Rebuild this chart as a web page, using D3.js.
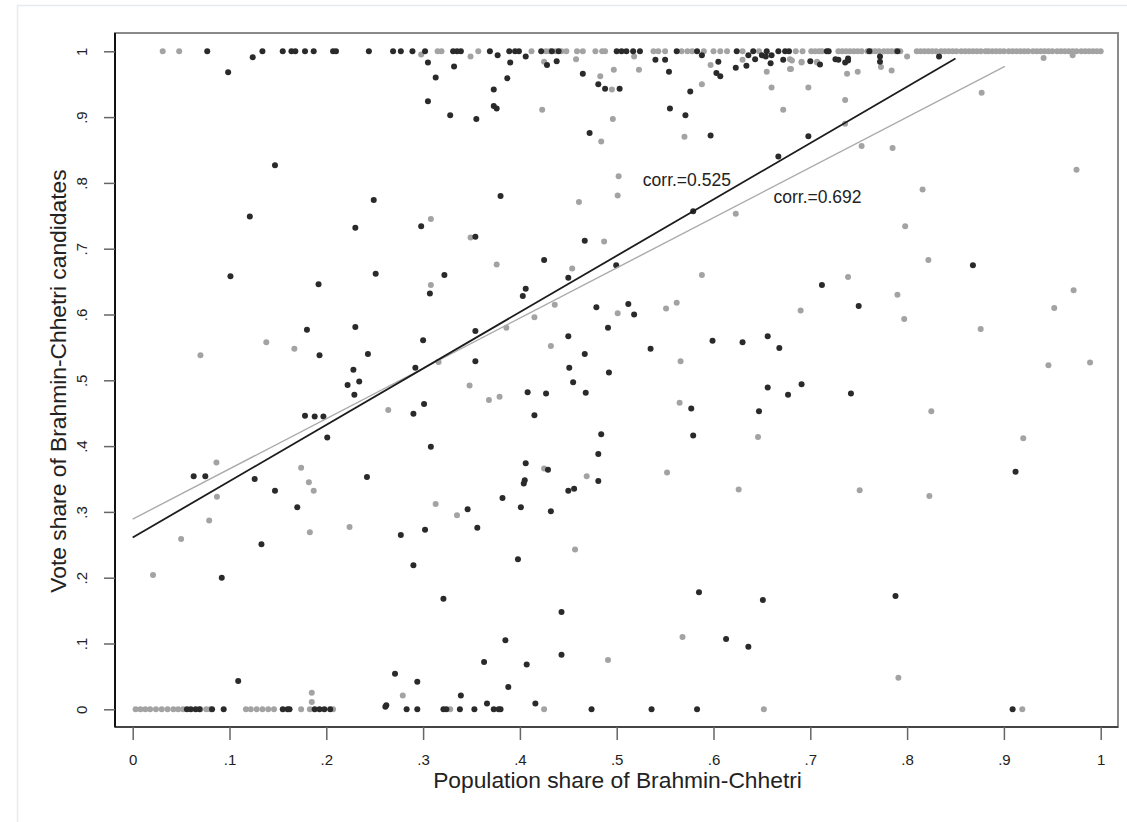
<!DOCTYPE html>
<html>
<head>
<meta charset="utf-8">
<script src="https://cdn.jsdelivr.net/npm/d3@7"></script>
<style>
  body { margin: 0; background: #fff; }
  svg { display: block; font-family: "Liberation Sans", Arial, Helvetica, sans-serif; }
</style>
</head>
<body>
<svg id="chart" width="1127" height="822"></svg>
<script>
// tick values
var xTicks = [0, 0.1, 0.2, 0.3, 0.4, 0.5, 0.6, 0.7, 0.8, 0.9, 1];
var yTicks = [0, 0.1, 0.2, 0.3, 0.4, 0.5, 0.6, 0.7, 0.8, 0.9, 1];

// dark series: points sitting on vote share = 1 and = 0
var darkTopX = [0.077, 0.134, 0.155, 0.164, 0.168, 0.178, 0.187, 0.207, 0.21, 0.244, 0.269, 0.277, 0.289, 0.302,
  0.331, 0.335, 0.339, 0.369, 0.389, 0.395, 0.399, 0.422, 0.433, 0.44, 0.5, 0.505, 0.51, 0.517, 0.524, 0.562,
  0.583, 0.624, 0.641, 0.655, 0.667, 0.674, 0.678, 0.717, 0.719, 0.761, 0.79];
var darkZeroX = [0.056, 0.06, 0.065, 0.069, 0.082, 0.094, 0.155, 0.16, 0.162, 0.188, 0.193, 0.198, 0.204, 0.283,
  0.294, 0.321, 0.324, 0.338, 0.353, 0.373, 0.378, 0.38, 0.474, 0.536, 0.583, 0.909];
// dark series: the rest [population share, vote share]
var darkPts = [
  [0.377,0.994],[0.406,0.992],[0.588,0.994],[0.636,0.994],[0.65,0.994],[0.66,0.994],[0.124,0.991],[0.0986,0.968],
  [0.305,0.983],[0.313,0.96],[0.305,0.924],[0.332,0.977],[0.39,0.983],[0.387,0.959],[0.373,0.942],[0.373,0.917],
  [0.376,0.913],[0.328,0.903],[0.355,0.897],[0.428,0.979],[0.438,0.985],[0.465,0.966],[0.472,0.876],[0.481,0.95],
  [0.488,0.943],[0.503,0.943],[0.54,0.987],[0.55,0.987],[0.554,0.969],[0.555,0.913],[0.571,0.903],[0.597,0.872],
  [0.576,0.939],[0.603,0.967],[0.607,0.962],[0.605,0.984],[0.623,0.975],[0.634,0.978],[0.643,0.988],[0.654,0.992],
  [0.659,0.982],[0.672,0.987],[0.7,0.985],[0.71,0.98],[0.726,0.988],[0.729,0.987],[0.736,0.983],[0.739,0.989],
  [0.772,0.992],[0.772,0.984],[0.833,0.992],[0.739,0.986],
  [0.147,0.827],[0.121,0.749],[0.249,0.774],[0.23,0.732],[0.101,0.658],[0.251,0.662],[0.192,0.646],[0.18,0.577],
  [0.23,0.581],[0.193,0.538],[0.243,0.54],[0.228,0.516],[0.222,0.493],[0.234,0.498],[0.229,0.478],[0.178,0.446],
  [0.188,0.445],[0.197,0.445],[0.201,0.413],[0.063,0.354],[0.075,0.354],[0.126,0.35],[0.242,0.353],[0.147,0.332],
  [0.17,0.307],[0.133,0.251],[0.092,0.2],[0.109,0.043],[0.271,0.054],[0.261,0.004],
  [0.38,0.78],[0.298,0.734],[0.354,0.718],[0.467,0.712],[0.425,0.683],[0.322,0.66],[0.45,0.656],[0.4995,0.675],
  [0.579,0.757],[0.667,0.84],[0.698,0.871],[0.868,0.675],
  [0.307,0.632],[0.406,0.639],[0.403,0.628],[0.479,0.611],[0.512,0.616],[0.518,0.6],[0.354,0.575],[0.3,0.561],
  [0.491,0.58],[0.45,0.567],[0.535,0.548],[0.599,0.56],[0.63,0.558],[0.656,0.567],[0.668,0.549],[0.467,0.54],
  [0.292,0.519],[0.354,0.529],[0.451,0.519],[0.492,0.512],[0.455,0.497],[0.468,0.481],[0.408,0.482],[0.427,0.48],
  [0.301,0.464],[0.29,0.449],[0.415,0.447],[0.577,0.457],[0.579,0.416],[0.656,0.489],[0.647,0.453],[0.308,0.399],
  [0.484,0.418],[0.481,0.388],[0.406,0.374],[0.429,0.364],[0.405,0.348],[0.404,0.343],[0.481,0.347],[0.45,0.332],
  [0.456,0.335],[0.382,0.321],[0.401,0.307],[0.432,0.301],[0.346,0.304],[0.277,0.265],[0.302,0.273],[0.356,0.276],
  [0.712,0.645],[0.75,0.613],[0.677,0.478],[0.691,0.494],[0.742,0.48],[0.912,0.361],
  [0.29,0.219],[0.321,0.168],[0.398,0.228],[0.443,0.148],[0.585,0.178],[0.651,0.166],[0.385,0.105],[0.613,0.107],
  [0.636,0.095],[0.363,0.072],[0.407,0.068],[0.443,0.083],[0.294,0.042],[0.388,0.034],[0.339,0.021],[0.262,0.006],
  [0.788,0.172],[0.366,0.009],[0.416,0.009]
];

// gray series
var grayTopX = [0.031, 0.048, 0.315, 0.319, 0.357, 0.412, 0.427, 0.431, 0.437, 0.443, 0.448, 0.459, 0.465, 0.478,
  0.485, 0.488, 0.538, 0.543, 0.55, 0.567, 0.573, 0.578, 0.59, 0.6, 0.607, 0.614, 0.63, 0.647, 0.685, 0.692,
  0.701, 0.705, 0.709, 0.712, 0.729, 0.733, 0.737, 0.741, 0.745, 0.749, 0.753, 0.759, 0.763, 0.767, 0.771, 0.776,
  0.78, 0.784, 0.788, 0.793, 0.81, 0.814, 0.818, 0.822, 0.826, 0.83, 0.835, 0.839, 0.843, 0.847, 0.851, 0.856,
  0.86, 0.864, 0.868, 0.872, 0.876, 0.881, 0.884, 0.888, 0.892, 0.896, 0.9, 0.905, 0.909, 0.913, 0.917, 0.921,
  0.925, 0.93, 0.934, 0.938, 0.942, 0.946, 0.95, 0.955, 0.959, 0.963, 0.967, 0.971, 0.975, 0.98, 0.984, 0.988,
  0.992, 0.996, 1.0];
var grayZeroX = [0.003, 0.008, 0.013, 0.018, 0.024, 0.03, 0.036, 0.042, 0.047, 0.052, 0.07, 0.076, 0.08, 0.117,
  0.122, 0.128, 0.134, 0.14, 0.146, 0.174, 0.183, 0.207, 0.328, 0.425, 0.652, 0.919];
var grayPts = [
  [0.298,0.995],[0.349,0.992],[0.518,0.992],[0.425,0.984],[0.458,0.988],[0.483,0.962],[0.495,0.942],[0.497,0.972],
  [0.423,0.911],[0.484,0.863],[0.496,0.897],[0.523,0.972],[0.588,0.95],[0.597,0.979],[0.63,0.987],[0.655,0.969],
  [0.66,0.945],[0.57,0.87],[0.672,0.911],[0.68,0.973],[0.698,0.945],[0.707,0.984],[0.691,0.984],[0.681,0.986],
  [0.736,0.926],[0.738,0.966],[0.749,0.969],[0.773,0.976],[0.784,0.971],[0.877,0.937],[0.941,0.99],[0.971,0.994],
  [0.679,0.988],[0.691,0.983],[0.707,0.983],[0.679,0.973],[0.8,0.992],[0.736,0.89],[0.753,0.856],[0.785,0.853],
  [0.502,0.81],[0.501,0.781],[0.461,0.771],[0.308,0.745],[0.349,0.717],[0.487,0.711],[0.376,0.676],[0.454,0.67],
  [0.588,0.66],[0.623,0.753],[0.816,0.79],[0.975,0.82],[0.798,0.734],[0.822,0.683],[0.739,0.657],
  [0.138,0.558],[0.07,0.538],[0.167,0.548],[0.264,0.455],[0.0865,0.375],[0.174,0.367],[0.182,0.345],[0.187,0.332],
  [0.087,0.323],[0.079,0.287],[0.183,0.269],[0.224,0.277],[0.05,0.259],[0.021,0.204],[0.185,0.025],[0.185,0.011],
  [0.279,0.021],
  [0.308,0.645],[0.501,0.602],[0.551,0.609],[0.562,0.618],[0.436,0.615],[0.415,0.596],[0.386,0.58],[0.432,0.552],
  [0.316,0.528],[0.566,0.529],[0.348,0.492],[0.368,0.47],[0.379,0.475],[0.565,0.466],[0.646,0.414],[0.425,0.366],
  [0.469,0.354],[0.552,0.36],[0.626,0.334],[0.313,0.312],[0.335,0.295],[0.457,0.243],[0.568,0.11],[0.491,0.075],
  [0.791,0.048],
  [0.79,0.63],[0.797,0.593],[0.69,0.606],[0.876,0.578],[0.972,0.637],[0.952,0.61],[0.946,0.523],[0.989,0.527],
  [0.825,0.453],[0.92,0.412],[0.751,0.333],[0.823,0.324]
];

// fitted lines [x0, y0, x1, y1]
var darkFit = [0, 0.261, 0.85, 0.989];
var grayFit = [0, 0.289, 0.901, 0.977];
var darkLabel = {text: 'corr.=0.525', x: 0.527, y: 0.795};
var grayLabel = {text: 'corr.=0.692', x: 0.662, y: 0.769};

var xTitle = 'Population share of Brahmin-Chhetri';
var yTitle = 'Vote share of Brahmin-Chhetri candidates';

var frame = {l: 115, r: 1118, t: 33, b: 727};

var svg = d3.select('#chart');

// faint outer box of the graph region
svg.append('rect')
    .attr('x', 17.5).attr('y', 5.5)
    .attr('width', 1200).attr('height', 1000)
    .attr('fill', 'none')
    .attr('stroke', '#e4ecee')
    .attr('stroke-width', 1.5);

var x = d3.scaleLinear().domain([0, 1]).range([132.7, 1100.7]);
var y = d3.scaleLinear().domain([0, 1]).range([709.3, 51.3]);

var fmt = d => d === 0 ? '0' : d === 1 ? '1' : d3.format('.1f')(d).replace(/^0/, '');

// plot region border
svg.append('rect')
    .attr('x', frame.l).attr('y', frame.t)
    .attr('width', frame.r - frame.l).attr('height', frame.b - frame.t)
    .attr('fill', 'none')
    .attr('stroke', '#8a8a8a')
    .attr('stroke-width', 2);

// x axis
var xAxis = svg.append('g')
    .attr('transform', 'translate(0,' + frame.b + ')')
    .call(d3.axisBottom(x).tickValues(xTicks).tickFormat(fmt).tickSize(13).tickSizeOuter(0));
xAxis.select('.domain')
    .attr('d', 'M' + frame.l + ',0H' + frame.r)
    .attr('stroke', '#444').attr('stroke-width', 2);
xAxis.selectAll('.tick line').attr('stroke', '#666').attr('stroke-width', 1.5);
xAxis.selectAll('.tick text')
    .attr('y', 38).attr('dy', 0)
    .attr('fill', '#222')
    .style('font-size', '15px');

// y axis
var yAxis = svg.append('g')
    .attr('transform', 'translate(' + frame.l + ',0)')
    .call(d3.axisLeft(y).tickValues(yTicks).tickFormat(fmt).tickSize(11).tickSizeOuter(0));
yAxis.select('.domain')
    .attr('d', 'M0,' + frame.t + 'V' + frame.b)
    .attr('stroke', '#111').attr('stroke-width', 2);
yAxis.selectAll('.tick line').attr('stroke', '#666').attr('stroke-width', 1.5);
yAxis.selectAll('.tick text')
    .attr('x', 0).attr('dy', 0)
    .attr('transform', 'translate(-28,0) rotate(-90)')
    .attr('text-anchor', 'middle')
    .attr('fill', '#222')
    .style('font-size', '15px');

// points
var gray = grayTopX.map(v => [v, 1])
    .concat(grayZeroX.map(v => [v, 0]))
    .concat(grayPts);
var dark = darkTopX.map(v => [v, 1])
    .concat(darkZeroX.map(v => [v, 0]))
    .concat(darkPts);

svg.append('g').selectAll('circle')
    .data(gray)
    .join('circle')
    .attr('cx', d => x(d[0]))
    .attr('cy', d => y(d[1]))
    .attr('r', 3)
    .attr('fill', '#a3a3a3');

svg.append('g').selectAll('circle')
    .data(dark)
    .join('circle')
    .attr('cx', d => x(d[0]))
    .attr('cy', d => y(d[1]))
    .attr('r', 3)
    .attr('fill', '#2a2a2a');

// fitted lines
svg.append('line')
    .attr('x1', x(grayFit[0])).attr('y1', y(grayFit[1]))
    .attr('x2', x(grayFit[2])).attr('y2', y(grayFit[3]))
    .attr('stroke', '#ababab').attr('stroke-width', 1.4);
svg.append('line')
    .attr('x1', x(darkFit[0])).attr('y1', y(darkFit[1]))
    .attr('x2', x(darkFit[2])).attr('y2', y(darkFit[3]))
    .attr('stroke', '#1c1c1c').attr('stroke-width', 1.8);

[darkLabel, grayLabel].forEach(l => {
    svg.append('text')
        .attr('x', x(l.x)).attr('y', y(l.y))
        .style('font-size', '17.5px')
        .attr('fill', '#222')
        .text(l.text);
});

// axis titles
svg.append('text')
    .attr('x', (frame.l + frame.r) / 2 + 1).attr('y', 788)
    .attr('text-anchor', 'middle')
    .style('font-size', '22.8px')
    .attr('fill', '#222')
    .text(xTitle);

svg.append('text')
    .attr('transform', 'translate(66,381) rotate(-90)')
    .attr('text-anchor', 'middle')
    .style('font-size', '22.8px')
    .attr('fill', '#222')
    .text(yTitle);
</script>
</body>
</html>
